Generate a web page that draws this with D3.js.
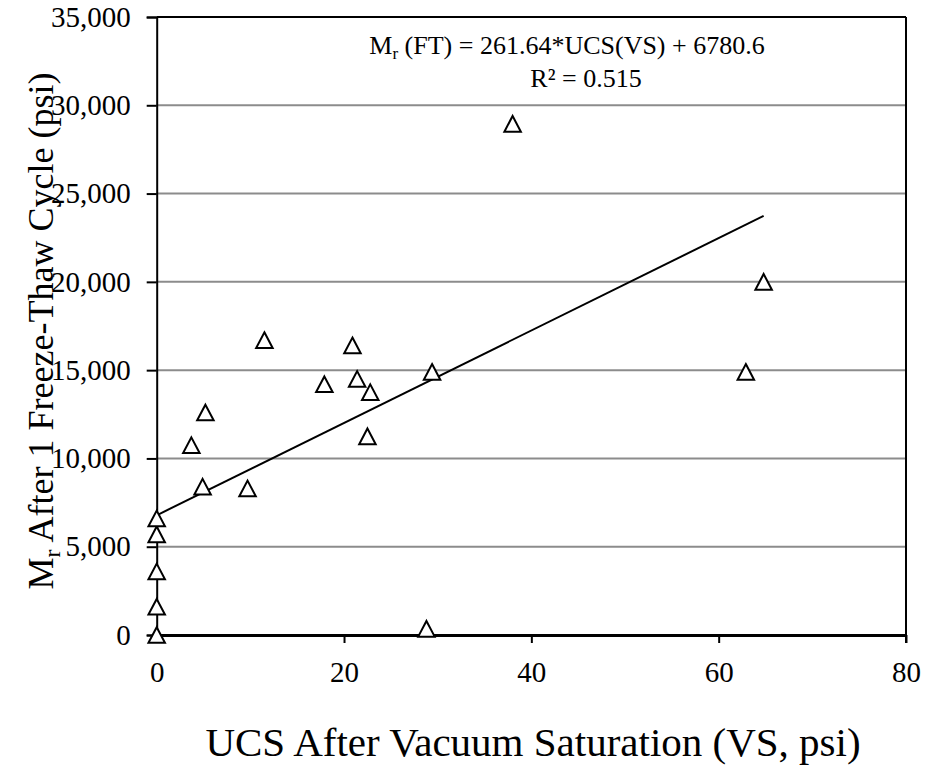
<!DOCTYPE html>
<html><head><meta charset="utf-8">
<script src="https://cdn.jsdelivr.net/npm/d3@7"></script>
<style>body{margin:0;background:#fff}svg{display:block}svg text{font-family:"Liberation Serif","Times New Roman",serif;fill:#000}</style>
</head><body><svg id="c" width="928" height="768"></svg>
<script>
const ucsVS = [0, 0, 0, 0, 0, 3.7, 4.9, 5.2, 9.7, 11.5, 17.9, 20.9, 21.4, 22.5, 22.8, 28.8, 29.4, 38.0, 62.9, 64.8];
const mrFT  = [0, 1600, 3600, 5700, 6600, 10750, 8400, 12600, 8300, 16700, 14200, 16400, 14500, 11250, 13750, 350, 14900, 28950, 14900, 20000];
const xTicks = [0, 20, 40, 60, 80];
const yTicks = [0, 5000, 10000, 15000, 20000, 25000, 30000, 35000];
const slope = 261.64, intercept = 6780.6, r2 = 0.515;
const xTitle = "UCS After Vacuum Saturation (VS, psi)";

const svg = d3.select("#c");
const L = 156.7, R = 906, T = 17, B = 635;
const x = d3.scaleLinear().domain([0, 80]).range([L, R]);
const y = d3.scaleLinear().domain([0, 35000]).range([B, T]);
const serif = '"Liberation Serif","Times New Roman",serif';

// gridlines
svg.append("g").selectAll("line").data(yTicks.filter(d => d > 0 && d < 35000)).join("line")
  .attr("x1", L).attr("x2", R).attr("y1", d => y(d)).attr("y2", d => y(d))
  .attr("stroke", "#8c8c8c").attr("stroke-width", 2);

// frame
svg.append("line").attr("x1", L).attr("x2", R).attr("y1", T).attr("y2", T).attr("stroke", "#000").attr("stroke-width", 2);
svg.append("line").attr("x1", R).attr("x2", R).attr("y1", T).attr("y2", B + 8).attr("stroke", "#000").attr("stroke-width", 2);

// y axis
const yAxis = d3.axisLeft(y).tickValues(yTicks).tickSize(10).tickPadding(16).tickFormat(d3.format(","));
const gy = svg.append("g").attr("transform", `translate(${L},0)`).call(yAxis);
gy.select(".domain").attr("stroke", "#000").attr("stroke-width", 2);
gy.selectAll(".tick line").attr("stroke", "#000").attr("stroke-width", 2);
gy.selectAll("text").style("font-size", "29px").style("font-family", serif).attr("fill", "#000");

// x axis
const xAxis = d3.axisBottom(x).tickValues(xTicks).tickSize(8).tickPadding(18).tickSizeOuter(0);
const gx = svg.append("g").attr("transform", `translate(0,${B})`).call(xAxis);
gx.select(".domain").attr("stroke", "#000").attr("stroke-width", 3);
gx.selectAll(".tick line").attr("stroke", "#000").attr("stroke-width", 2);
gx.selectAll("text").style("font-size", "29px").style("font-family", serif).attr("fill", "#000");

// trendline
const xMax = d3.max(ucsVS);
svg.append("path").datum([0, xMax])
  .attr("d", d3.line().x(d => x(d)).y(d => y(slope * d + intercept)))
  .attr("stroke", "#000").attr("stroke-width", 2).attr("fill", "none");

// markers (triangles centred on bounding box)
const tri = { draw(ctx, size) { const w = Math.sqrt(size), h = w * 0.95;
  ctx.moveTo(0, -h / 2); ctx.lineTo(w / 2, h / 2); ctx.lineTo(-w / 2, h / 2); ctx.closePath(); } };
svg.append("g").selectAll("path").data(ucsVS.map((v, i) => [v, mrFT[i]])).join("path")
  .attr("transform", d => `translate(${x(d[0])},${y(d[1])})`)
  .attr("d", d3.symbol().type(tri).size(16.5 * 16.5))
  .attr("fill", "#fff").attr("stroke", "#000").attr("stroke-width", 2);

// equation
const eq = svg.append("text").attr("x", 567).attr("y", 54).attr("text-anchor", "middle").style("font-size", "26px");
eq.append("tspan").text("M");
eq.append("tspan").attr("dy", 5).style("font-size", "17px").text("r");
eq.append("tspan").attr("dy", -5).text(` (FT) = ${slope}*UCS(VS) + ${intercept}`);
svg.append("text").attr("x", 586).attr("y", 87).attr("text-anchor", "middle").style("font-size", "26px")
  .text(`R² = ${r2}`);

// axis titles
svg.append("text").attr("x", 533).attr("y", 756).attr("text-anchor", "middle").style("font-size", "41px").text(xTitle);
const yt = svg.append("text").attr("transform", "translate(53,331) rotate(-90)").attr("text-anchor", "middle").style("font-size", "36px");
yt.append("tspan").text("M");
yt.append("tspan").attr("dy", 7).style("font-size", "24px").text("r");
yt.append("tspan").attr("dy", -7).text(" After 1 Freeze-Thaw Cycle (psi)");
</script></body></html>
